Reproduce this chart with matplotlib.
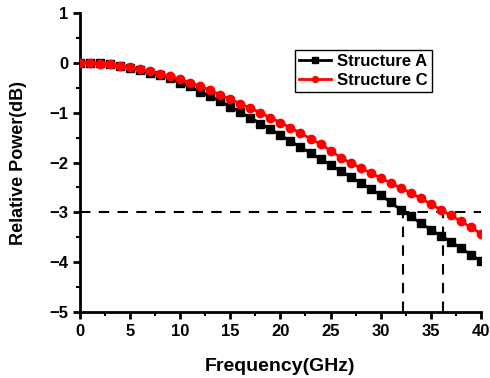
import matplotlib
matplotlib.use('Agg')
import matplotlib.pyplot as plt
import numpy as np

# frequency points (GHz)
freq = list(range(0, 41))

# relative power (dB)
struct_a = [0.0, 0.0, -0.01, -0.03, -0.06, -0.10, -0.15, -0.20, -0.25, -0.31,
            -0.40, -0.47, -0.58, -0.67, -0.77, -0.88, -0.99, -1.10, -1.22, -1.33,
            -1.45, -1.57, -1.69, -1.81, -1.93, -2.05, -2.17, -2.29, -2.41, -2.53,
            -2.65, -2.80, -2.95, -3.08, -3.22, -3.35, -3.47, -3.59, -3.72, -3.85,
            -3.98]
struct_c = [0.0, 0.0, -0.02, -0.03, -0.06, -0.09, -0.13, -0.17, -0.22, -0.27,
            -0.33, -0.40, -0.47, -0.55, -0.64, -0.73, -0.82, -0.91, -1.00, -1.10,
            -1.20, -1.30, -1.41, -1.52, -1.63, -1.76, -1.90, -2.01, -2.11, -2.21,
            -2.31, -2.41, -2.51, -2.61, -2.72, -2.83, -2.95, -3.06, -3.18, -3.30,
            -3.43]

# -3 dB reference and bandwidth crossings
ref_db = -3
cross_a = 32.2
cross_c = 36.2

plt.rcParams['font.family'] = ['Liberation Sans', 'DejaVu Sans']
plt.rcParams['font.weight'] = 'bold'

fig = plt.figure(figsize=(4.9, 3.78), dpi=100)
ax = fig.add_axes([0.163, 0.1746, 0.8186, 0.791])

ax.plot(freq, struct_a, color='black', lw=2, marker='s', ms=5.5, label='Structure A', zorder=3)
ax.plot(freq, struct_c, color='red', lw=2, marker='o', ms=6, label='Structure C', zorder=4)

ax.plot([0, 40], [ref_db, ref_db], color='black', ls=(0, (5, 4)), lw=1.5, zorder=2)
ax.plot([cross_a, cross_a], [-5, ref_db], color='black', ls=(0, (5, 4)), lw=1.5, zorder=2)
ax.plot([cross_c, cross_c], [-5, ref_db], color='black', ls=(0, (5, 4)), lw=1.5, zorder=2)

ax.set_xlim(0, 40)
ax.set_ylim(-5, 1)
ax.set_xticks(np.arange(0, 41, 5))
ax.set_yticks(np.arange(-5, 2, 1))
ax.set_xticks(np.arange(2.5, 40, 5), minor=True)
ax.set_yticks(np.arange(-4.5, 1, 1), minor=True)

for s in ['top', 'right']:
    ax.spines[s].set_visible(False)
for s in ['left', 'bottom']:
    ax.spines[s].set_linewidth(2)

ax.tick_params(which='major', direction='out', length=5, width=2, labelsize=12)
ax.tick_params(which='minor', direction='out', length=3, width=1.5)
for lab in ax.get_xticklabels() + ax.get_yticklabels():
    lab.set_fontweight('bold')

ax.set_xlabel('Frequency(GHz)', fontsize=14, fontweight='bold', labelpad=14)
ax.set_ylabel('Relative Power(dB)', fontsize=13, fontweight='bold', labelpad=16)

leg = ax.legend(loc='upper left', bbox_to_anchor=(0.537, 0.877), fancybox=False,
                edgecolor='black', framealpha=1, fontsize=12, handlelength=1.9,
                markerscale=0.7, borderpad=0.25, labelspacing=0.25,
                handletextpad=0.35, borderaxespad=0)
leg.get_frame().set_linewidth(1)
for t in leg.get_texts():
    t.set_fontweight('bold')

fig.savefig('out.png', dpi=100)
